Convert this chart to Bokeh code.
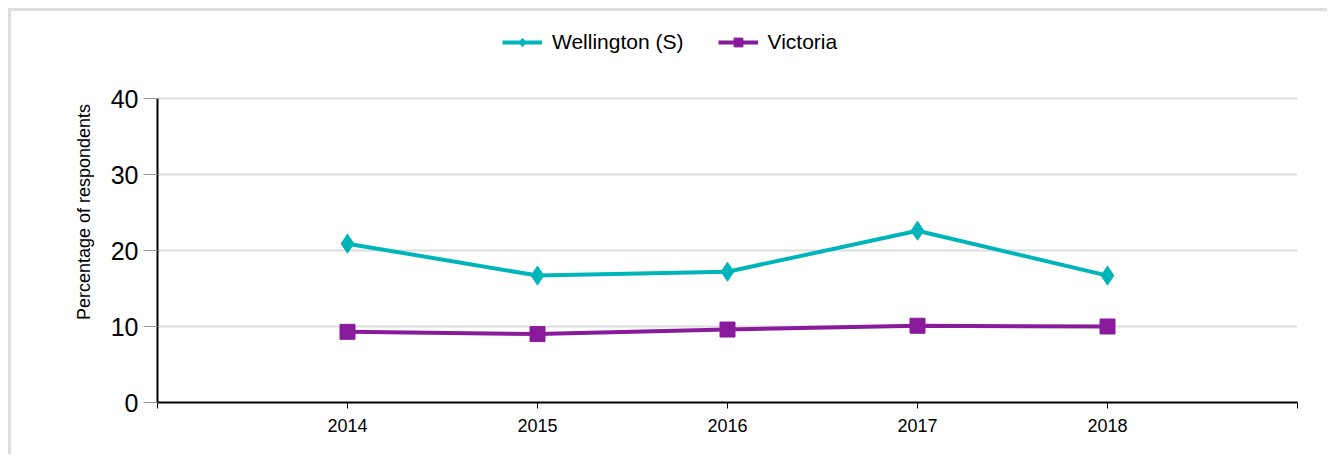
from bokeh.plotting import figure
from bokeh.models import Range1d, FixedTicker, Legend, LegendItem
from bokeh.embed import file_html
from bokeh.resources import INLINE

years = [2014, 2015, 2016, 2017, 2018]
wellington = [20.9, 16.7, 17.2, 22.6, 16.7]
victoria = [9.3, 9.0, 9.6, 10.1, 10.0]
y_ticks = [0, 10, 20, 30, 40]
x_ticks = [2013, 2014, 2015, 2016, 2017, 2018, 2019]
y_title = "Percentage of respondents"

CYAN = "#00B5B9"
PURPLE = "#8A1A9C"
FONT = "Liberation Sans"

# frame: 381 px tall, 40 units = 304 px -> top of frame at 381/7.6 units
Y_TOP = 381 / 7.6

p = figure(width=1319, height=446, output_backend="svg", toolbar_location=None,
           x_range=Range1d(2013, 2019), y_range=Range1d(0, Y_TOP),
           min_border_left=146, min_border_right=33, min_border_top=10, min_border_bottom=55)
p.styles = {"margin-left": "8px", "margin-top": "8px",
            "border-left": "3px solid #dedede", "border-top": "3px solid #dedede"}
p.outline_line_color = None
p.background_fill_color = "white"
p.border_fill_color = "white"

p.xgrid.grid_line_color = None
p.ygrid.ticker = FixedTicker(ticks=y_ticks[1:])
p.ygrid.grid_line_color = "#dcdcdc"
p.ygrid.grid_line_width = 2

p.yaxis.ticker = FixedTicker(ticks=y_ticks)
p.yaxis.bounds = (0, 40)
p.yaxis.axis_line_color = "black"
p.yaxis.axis_line_width = 2
p.yaxis.major_tick_out = 14
p.yaxis.major_tick_in = 0
p.yaxis.major_tick_line_color = "#999999"
p.yaxis.minor_tick_line_color = None
p.yaxis.major_label_text_font = FONT
p.yaxis.major_label_text_font_size = "25px"
p.yaxis.major_label_text_color = "black"
p.yaxis.major_label_standoff = 5
p.yaxis.axis_label = y_title
p.yaxis.axis_label_text_font = FONT
p.yaxis.axis_label_text_font_size = "18px"
p.yaxis.axis_label_text_font_style = "normal"
p.yaxis.axis_label_text_color = "black"
p.yaxis.axis_label_standoff = 14

p.xaxis.ticker = FixedTicker(ticks=x_ticks)
p.xaxis.major_label_overrides = {2013: "", 2019: ""}
p.xaxis.axis_line_color = "black"
p.xaxis.axis_line_width = 2
p.xaxis.major_tick_out = 6
p.xaxis.major_tick_in = 0
p.xaxis.major_tick_line_color = "black"
p.xaxis.minor_tick_line_color = None
p.xaxis.major_label_text_font = FONT
p.xaxis.major_label_text_font_size = "18px"
p.xaxis.major_label_text_color = "black"
p.xaxis.major_label_standoff = 10

l1 = p.line(years, wellington, line_color=CYAN, line_width=4)
m1 = p.scatter(years, wellington, marker="diamond", size=19, fill_color=CYAN, line_color=CYAN)
l2 = p.line(years, victoria, line_color=PURPLE, line_width=4)
m2 = p.scatter(years, victoria, marker="square", size=15, fill_color=PURPLE, line_color=PURPLE)

legend = Legend(items=[LegendItem(label="Wellington (S)", renderers=[l1, m1]),
                       LegendItem(label="Victoria", renderers=[l2, m2])],
                orientation="horizontal", location=(345, 348),
                label_text_font=FONT, label_text_font_size="21px", label_text_color="black",
                glyph_width=40, glyph_height=22, spacing=34, label_standoff=10,
                border_line_color=None, background_fill_alpha=0, padding=0, margin=0)
p.add_layout(legend, "center")

open("out.html", "w").write(file_html(p, INLINE))
